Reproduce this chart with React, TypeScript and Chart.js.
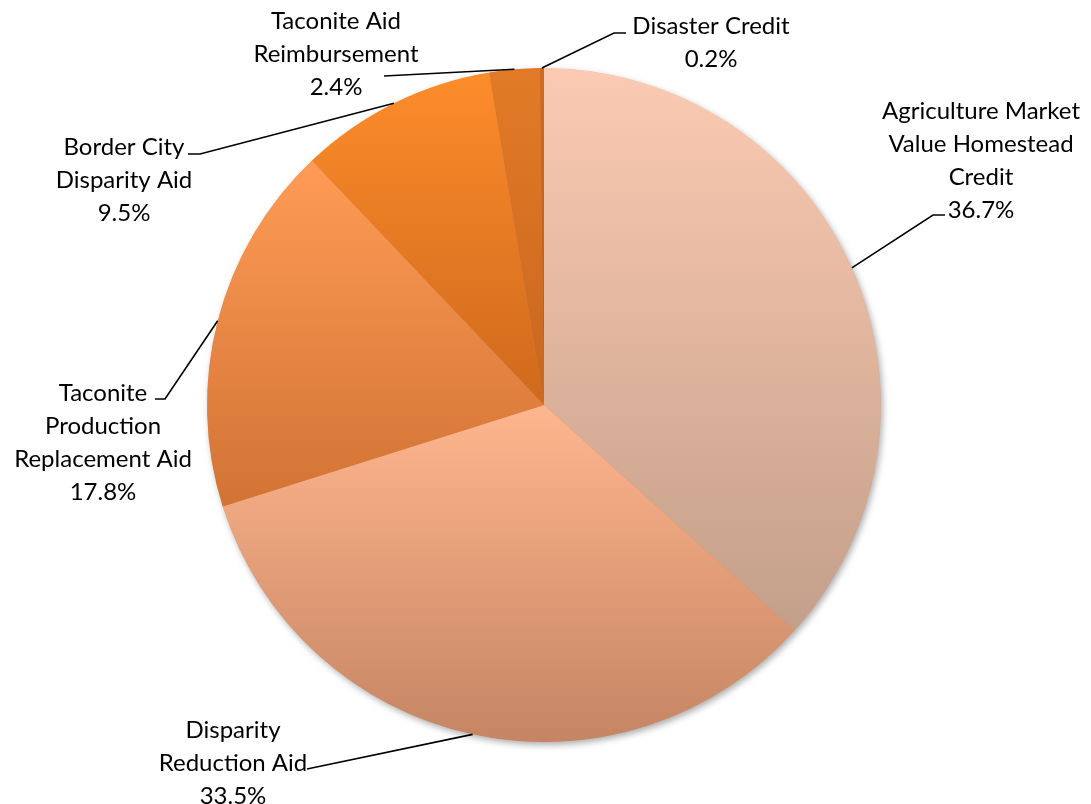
import { useEffect, useRef } from 'react';
import { Chart, registerables } from 'chart.js';

Chart.register(...registerables);

const categories = [
  'Agriculture Market Value Homestead Credit',
  'Disparity Reduction Aid',
  'Taconite Production Replacement Aid',
  'Border City Disparity Aid',
  'Taconite Aid Reimbursement',
  'Disaster Credit',
];
const shares = [36.7, 33.5, 17.8, 9.5, 2.4, 0.2];
const labelLines = [
  ['Agriculture Market', 'Value Homestead', 'Credit'],
  ['Disparity', 'Reduction Aid'],
  ['Taconite', 'Production', 'Replacement Aid'],
  ['Border City', 'Disparity Aid'],
  ['Taconite Aid', 'Reimbursement'],
  ['Disaster Credit'],
];
const gradientTop = ['#FCCAB2', '#FFB68E', '#FF9B56', '#FD8C2B', '#E27B27', '#CF6C22'];
const gradientBottom = ['#C39F89', '#C58563', '#D27334', '#CF691C', '#C9661F', '#B85B19'];

// label placement (text centre x, first line centre y, leader elbow & end)
const labelLayout = [
  { x: 981, y: 111, elbow: [933, 215], end: [945, 215] },
  { x: 233, y: 730, elbow: [307, 769], end: [307, 769] },
  { x: 103, y: 393, elbow: [165, 399], end: [155, 399] },
  { x: 124, y: 147, elbow: [200, 154], end: [188, 154] },
  { x: 336, y: 21, elbow: [384, 76], end: [384, 76] },
  { x: 711, y: 26, elbow: [614, 33], end: [626, 33] },
];

const FONT = '24px Lato, "Open Sans", sans-serif';
const LINE_H = 33;

function sliceYRange(cy: number, r: number, a0: number, a1: number) {
  const pts: number[] = [cy, cy - r * Math.cos(a0), cy - r * Math.cos(a1)];
  for (let k = -2; k <= 4; k++) {
    const a = k * Math.PI;
    if (a > a0 && a < a1) pts.push(cy - r * Math.cos(a));
  }
  return [Math.min(...pts), Math.max(...pts)];
}

const shadowPlugin = {
  id: 'pieShadow',
  beforeDatasetsDraw(chart: any) {
    const arc = chart.getDatasetMeta(0).data[0];
    if (!arc) return;
    const ctx = chart.ctx;
    ctx.save();
    ctx.shadowColor = 'rgba(0,0,0,0.35)';
    ctx.shadowBlur = 7;
    ctx.shadowOffsetX = 2;
    ctx.shadowOffsetY = 3;
    ctx.fillStyle = '#d08a60';
    ctx.beginPath();
    ctx.arc(arc.x, arc.y, arc.outerRadius - 0.5, 0, Math.PI * 2);
    ctx.fill();
    ctx.restore();
  },
};

const labelPlugin = {
  id: 'pieLabels',
  afterDatasetsDraw(chart: any) {
    const ctx = chart.ctx;
    const meta = chart.getDatasetMeta(0);
    ctx.save();
    meta.data.forEach((el: any, i: number) => {
      const mid = (el.startAngle + el.endAngle) / 2;
      const sx = el.x + Math.cos(mid) * el.outerRadius;
      const sy = el.y + Math.sin(mid) * el.outerRadius;
      const lay = labelLayout[i];
      ctx.strokeStyle = '#000';
      ctx.lineWidth = 1.6;
      ctx.beginPath();
      ctx.moveTo(sx, sy);
      ctx.lineTo(lay.elbow[0], lay.elbow[1]);
      ctx.lineTo(lay.end[0], lay.end[1]);
      ctx.stroke();
      const lines = [...labelLines[i], shares[i].toFixed(1) + '%'];
      ctx.fillStyle = '#000';
      ctx.font = FONT;
      ctx.textAlign = 'center';
      ctx.textBaseline = 'middle';
      lines.forEach((t, j) => ctx.fillText(t, lay.x, lay.y + j * LINE_H));
    });
    ctx.restore();
  },
};

export default function App() {
  const ref = useRef<HTMLCanvasElement | null>(null);
  useEffect(() => {
    if (!ref.current) return;
    const total = shares.reduce((a, b) => a + b, 0);
    const chart = new Chart(ref.current, {
      type: 'pie',
      data: {
        labels: categories,
        datasets: [
          {
            data: shares,
            borderWidth: 0,
            backgroundColor: (c: any) => {
              const i = c.dataIndex;
              const area = c.chart.chartArea;
              if (!area || i === undefined) return gradientTop[i ?? 0];
              const cx = (area.left + area.right) / 2;
              const cy = (area.top + area.bottom) / 2;
              const r = Math.min(area.right - area.left, area.bottom - area.top) / 2;
              let before = 0;
              for (let k = 0; k < i; k++) before += shares[k];
              const a0 = (before / total) * Math.PI * 2;
              const a1 = ((before + shares[i]) / total) * Math.PI * 2;
              const [y0, y1] = sliceYRange(cy, r, a0, a1);
              const g = c.chart.ctx.createLinearGradient(0, y0, 0, y1);
              g.addColorStop(0, gradientTop[i]);
              g.addColorStop(1, gradientBottom[i]);
              return g;
            },
          },
        ],
      },
      options: {
        responsive: true,
        maintainAspectRatio: false,
        animation: false,
        layout: { padding: { left: 200, right: 203, top: 68, bottom: 62 } },
        plugins: {
          legend: { display: false },
          tooltip: { enabled: false },
        },
      },
      plugins: [shadowPlugin, labelPlugin],
    });
    return () => chart.destroy();
  }, []);
  return (
    <div style={{ position: 'absolute', left: 0, top: 0, width: 1091, height: 804, background: '#fff' }}>
      <canvas ref={ref} />
    </div>
  );
}
